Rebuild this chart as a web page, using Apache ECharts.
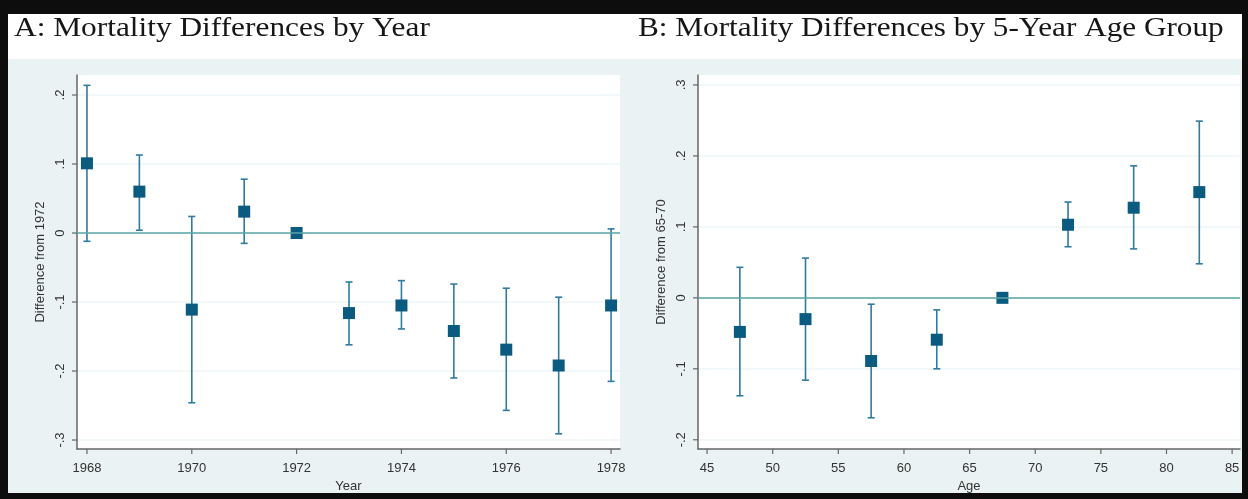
<!DOCTYPE html>
<html>
<head>
<meta charset="utf-8">
<script src="https://cdn.jsdelivr.net/npm/echarts@6/dist/echarts.min.js"></script>
<style>
html,body{margin:0;padding:0;background:#0d0d0d;}
#c{width:1248px;height:499px;}
</style>
</head>
<body>
<div id="c"></div>
<script>
// ---- Panel A data ----
const years = [1968, 1969, 1970, 1971, 1972, 1973, 1974, 1975, 1976, 1977, 1978];
const yearEst = [0.101, 0.060, -0.111, 0.031, 0.0, -0.116, -0.105, -0.142, -0.169, -0.192, -0.105];
const yearLow = [-0.012, 0.004, -0.246, -0.015, 0.0, -0.162, -0.139, -0.210, -0.257, -0.291, -0.215];
const yearHigh = [0.214, 0.113, 0.024, 0.078, 0.0, -0.071, -0.069, -0.074, -0.080, -0.093, 0.006];
const yearTicks = [1968, 1970, 1972, 1974, 1976, 1978];
const yearYTicks = [-0.3, -0.2, -0.1, 0, 0.1, 0.2];

// ---- Panel B data ----
const ages = [47.5, 52.5, 57.5, 62.5, 67.5, 72.5, 77.5, 82.5];
const ageEst = [-0.048, -0.030, -0.089, -0.059, 0.0, 0.103, 0.127, 0.149];
const ageLow = [-0.138, -0.116, -0.169, -0.100, 0.0, 0.072, 0.069, 0.048];
const ageHigh = [0.043, 0.056, -0.009, -0.017, 0.0, 0.135, 0.186, 0.249];
const ageTicks = [45, 50, 55, 60, 65, 70, 75, 80, 85];
const ageYTicks = [-0.2, -0.1, 0, 0.1, 0.2, 0.3];

const titleA = 'A: Mortality Differences by Year';
const titleB = 'B: Mortality Differences by 5-Year Age Group';

function stataFmt(v) {
  if (Math.abs(v) < 1e-9) return '0';
  const s = String(Math.round(Math.abs(v) * 1000) / 1000).replace(/^0/, '');
  return (v < 0 ? '-' : '') + s;
}

const markerColor = '#0b5a80';
const barColor = '#2f7aa0';
const zeroColor = '#5aa6a8';
const axisColor = '#666666';
const labelFont = 'Liberation Sans';

function errRender(params, api) {
  const x = api.value(0);
  const lo = api.coord([x, api.value(1)]);
  const hi = api.coord([x, api.value(2)]);
  if (Math.abs(lo[1] - hi[1]) < 0.5) return null;
  const w = 3.5;
  const st = { stroke: barColor, lineWidth: 1.6 };
  return {
    type: 'group',
    children: [
      { type: 'line', shape: { x1: hi[0], y1: hi[1], x2: lo[0], y2: lo[1] }, style: st },
      { type: 'line', shape: { x1: hi[0] - w, y1: hi[1], x2: hi[0] + w, y2: hi[1] }, style: st },
      { type: 'line', shape: { x1: lo[0] - w, y1: lo[1], x2: lo[0] + w, y2: lo[1] }, style: st }
    ]
  };
}

// tick marks drawn through the axis scale (one item per tick value)
function xTickRender(params, api) {
  const p = api.coord([api.value(0), api.value(1)]);
  return { type: 'line', shape: { x1: p[0], y1: p[1], x2: p[0], y2: p[1] + 5 },
    style: { stroke: axisColor, lineWidth: 1.2 } };
}
function yTickRender(params, api) {
  const p = api.coord([api.value(0), api.value(1)]);
  return { type: 'line', shape: { x1: p[0], y1: p[1], x2: p[0] - 5, y2: p[1] },
    style: { stroke: axisColor, lineWidth: 1.2 } };
}

function xAxisCfg(idx, min, max, ticks, name) {
  return {
    type: 'value', gridIndex: idx, min: min, max: max,
    name: name, nameLocation: 'middle', nameGap: 31,
    nameTextStyle: { fontFamily: labelFont, fontSize: 13, color: '#333' },
    axisLine: { show: true, onZero: false, lineStyle: { color: axisColor, width: 1.5 } },
    axisTick: { show: false },
    axisLabel: { customValues: ticks, fontFamily: labelFont, fontSize: 13, color: '#333', margin: 13,
      formatter: v => String(v) },
    splitLine: { show: false }
  };
}
function yAxisCfg(idx, min, max, ticks, name) {
  return {
    type: 'value', gridIndex: idx, min: min, max: max,
    name: name, nameLocation: 'middle', nameGap: 30, nameRotate: 90,
    nameTextStyle: { fontFamily: labelFont, fontSize: 13, color: '#333' },
    axisLine: { show: true, onZero: false, lineStyle: { color: axisColor, width: 1.5 } },
    axisTick: { show: false, customValues: ticks },
    axisLabel: { customValues: ticks, rotate: 90, fontFamily: labelFont, fontSize: 13, color: '#333', margin: 10,
      formatter: stataFmt },
    splitLine: { show: true, lineStyle: { color: '#eef5f7', width: 1.5 } }
  };
}

function zeroLine() {
  return {
    silent: true, symbol: 'none', label: { show: false },
    lineStyle: { color: zeroColor, width: 1.6, type: 'solid' },
    data: [{ yAxis: 0 }]
  };
}

const A = { xMin: 1967.81, xMax: 1978.17, yMin: -0.313, yMax: 0.229 };
const B = { xMin: 44.31, xMax: 85.6, yMin: -0.213, yMax: 0.314 };

const chart = echarts.init(document.getElementById('c'), null, { renderer: 'canvas' });
chart.setOption({
  backgroundColor: '#0d0d0d',
  animation: false,
  graphic: [
    { type: 'rect', left: 8, top: 14, z: -10, shape: { width: 1234, height: 45 }, style: { fill: '#ffffff' } },
    { type: 'rect', left: 8, top: 59, z: -10, shape: { width: 1234, height: 434 }, style: { fill: '#eaf2f4' } },
    { type: 'text', left: 14, top: 15, scaleX: 1.14, style: { text: titleA, font: '27.5px "Liberation Serif"', fill: '#161616' } },
    { type: 'text', left: 638, top: 15, scaleX: 1.135, style: { text: titleB, font: '27.5px "Liberation Serif"', fill: '#161616' } }
  ],
  grid: [
    { left: 77, top: 75, width: 543, height: 374, show: true, backgroundColor: '#ffffff', borderWidth: 0 },
    { left: 698, top: 75, width: 542, height: 374, show: true, backgroundColor: '#ffffff', borderWidth: 0 }
  ],
  xAxis: [
    xAxisCfg(0, A.xMin, A.xMax, yearTicks, 'Year'),
    xAxisCfg(1, B.xMin, B.xMax, ageTicks, 'Age')
  ],
  yAxis: [
    yAxisCfg(0, A.yMin, A.yMax, yearYTicks, 'Difference from 1972'),
    yAxisCfg(1, B.yMin, B.yMax, ageYTicks, 'Difference from 65-70')
  ],
  series: [
    {
      type: 'custom', xAxisIndex: 0, yAxisIndex: 0, renderItem: errRender,
      data: years.map((y, i) => [y, yearLow[i], yearHigh[i]]),
      markLine: zeroLine(), z: 2
    },
    {
      type: 'scatter', xAxisIndex: 0, yAxisIndex: 0, symbol: 'rect', symbolSize: 12,
      itemStyle: { color: markerColor, opacity: 1 }, data: years.map((y, i) => [y, yearEst[i]]), z: 3
    },
    {
      type: 'custom', xAxisIndex: 1, yAxisIndex: 1, renderItem: errRender,
      data: ages.map((a, i) => [a, ageLow[i], ageHigh[i]]),
      markLine: zeroLine(), z: 2
    },
    {
      type: 'scatter', xAxisIndex: 1, yAxisIndex: 1, symbol: 'rect', symbolSize: 12,
      itemStyle: { color: markerColor, opacity: 1 }, data: ages.map((a, i) => [a, ageEst[i]]), z: 3
    },
    { type: 'custom', xAxisIndex: 0, yAxisIndex: 0, renderItem: xTickRender, clip: false, silent: true,
      data: yearTicks.map(t => [t, A.yMin]), z: 5 },
    { type: 'custom', xAxisIndex: 0, yAxisIndex: 0, renderItem: yTickRender, clip: false, silent: true,
      data: yearYTicks.map(t => [A.xMin, t]), z: 5 },
    { type: 'custom', xAxisIndex: 1, yAxisIndex: 1, renderItem: xTickRender, clip: false, silent: true,
      data: ageTicks.map(t => [t, B.yMin]), z: 5 },
    { type: 'custom', xAxisIndex: 1, yAxisIndex: 1, renderItem: yTickRender, clip: false, silent: true,
      data: ageYTicks.map(t => [B.xMin, t]), z: 5 }
  ]
});
</script>
</body>
</html>
